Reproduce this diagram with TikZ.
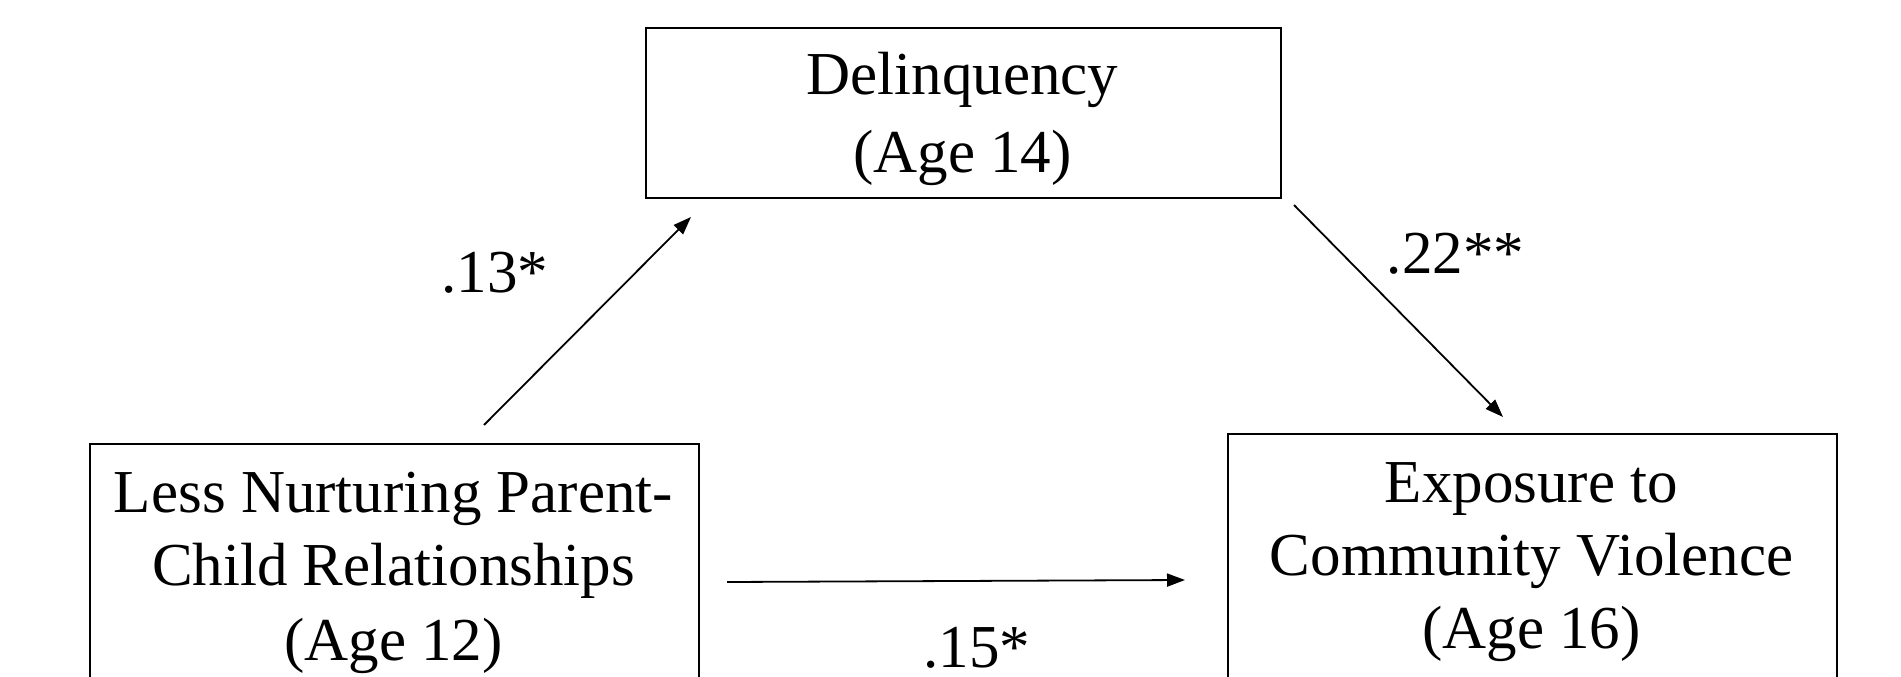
\documentclass[tikz,border=0pt]{standalone}
\usepackage{fontspec}
\setmainfont{Liberation Serif}
\usetikzlibrary{arrows.meta}
\begin{document}
\begin{tikzpicture}[x=1pt,y=-1pt,
  box/.style={draw, line width=2.2pt, anchor=north west, inner sep=0pt},
  txt/.style={anchor=base, inner sep=0pt, font=\fontsize{61}{74}\selectfont},
  arr/.style={line width=1.8pt, -{Triangle[length=18pt,width=13pt]}}]
\useasboundingbox (0,0) rectangle (1901,677);
\clip (0,0) rectangle (1901,677);
\fill[white] (0,0) rectangle (1901,677);
% boxes
\node[box, minimum width=635pt, minimum height=170pt] (del) at (645,27) {};
\node[box, minimum width=609pt, minimum height=280pt] (par) at (89,443) {};
\node[box, minimum width=609pt, minimum height=290pt] (exp) at (1227,433) {};
% texts
\node[txt] (del1) at (962.5,95) {Delinquency};
\node[txt] (del2) at (962.5,172) {(Age 14)};
\node[txt] (par1) at (393.5,512) {Less Nurturing Parent-};
\node[txt] (par2) at (393.5,585) {Child Relationships};
\node[txt] (par3) at (393.5,660) {(Age 12)};
\node[txt] (exp1) at (1531.5,502) {Exposure to};
\node[txt] (exp2) at (1531.5,575) {Community Violence};
\node[txt] (exp3) at (1531.5,648) {(Age 16)};
% path labels
\node[txt] (l13) at (495,292) {.13*};
\node[txt] (l22) at (1455.5,273) {.22**};
\node[txt] (l15) at (977,667) {.15*};
% connector ends
\coordinate (a1s) at (484,425);
\coordinate (a1e) at (691,217);
\coordinate (a2s) at (1294,205);
\coordinate (a2e) at (1503,417);
\coordinate (a3s) at (727,582);
\coordinate (a3e) at (1185,580);
\draw[arr] (a1s) -- (a1e);
\draw[arr] (a2s) -- (a2e);
\draw[arr] (a3s) -- (a3e);
\end{tikzpicture}
\end{document}
